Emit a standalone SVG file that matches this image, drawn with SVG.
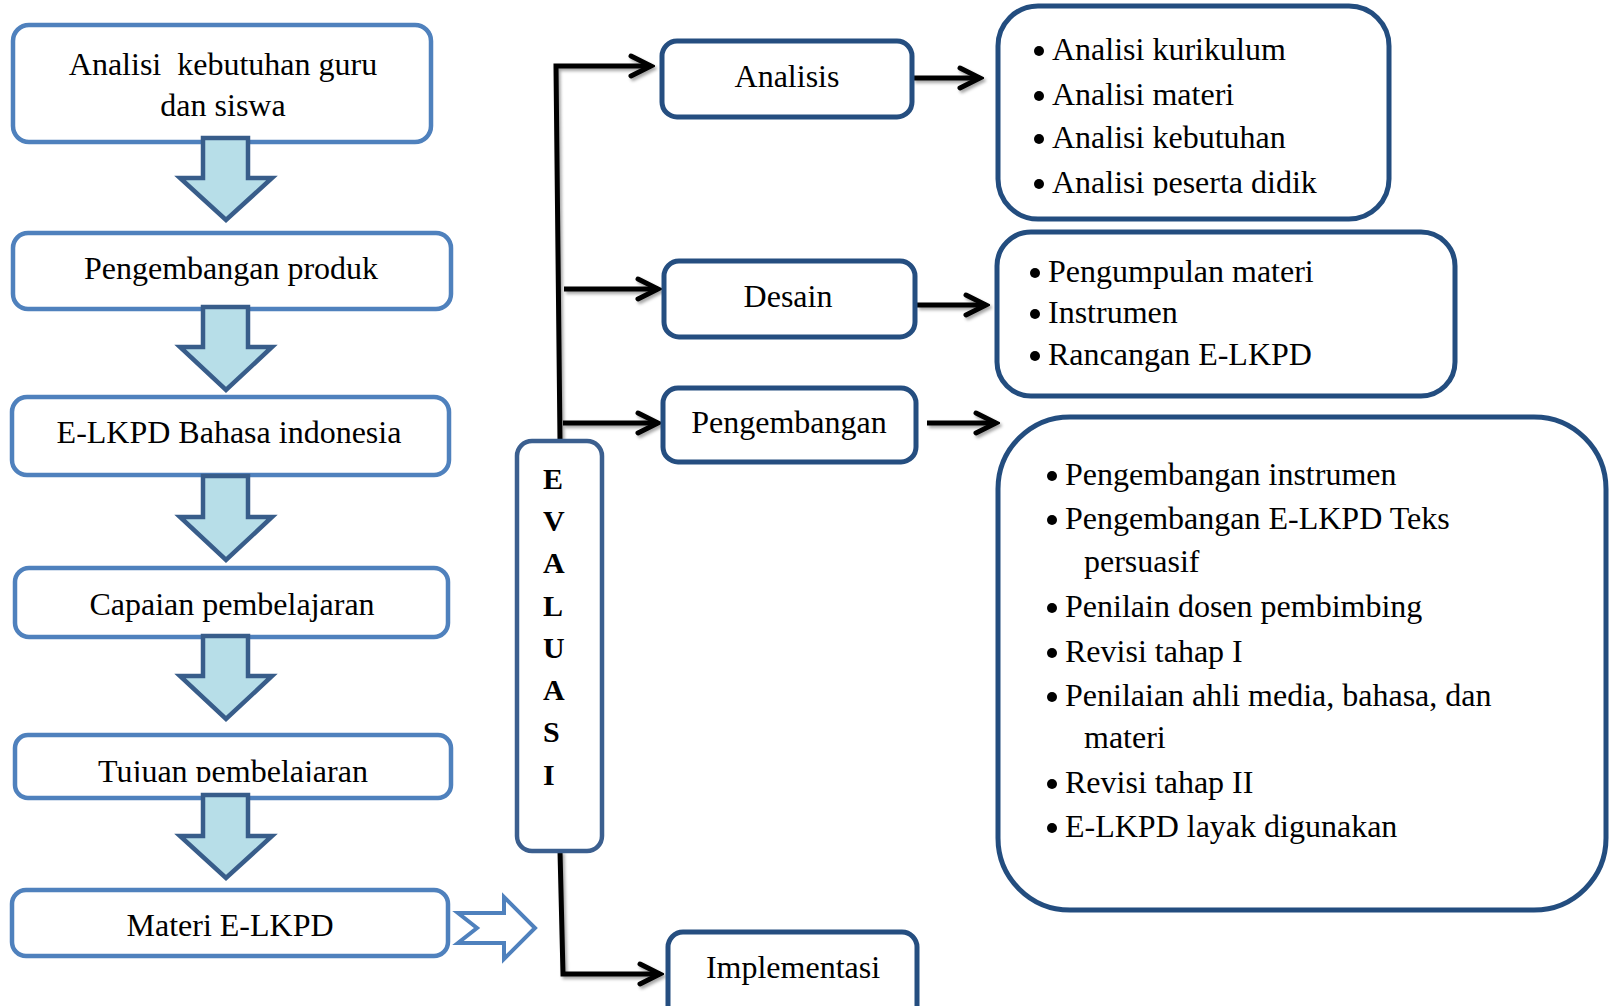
<svg xmlns="http://www.w3.org/2000/svg" width="1609" height="1006" viewBox="0 0 1609 1006">
<style>
  text { font-family: "Liberation Serif", "Times New Roman", serif; font-size: 32px; fill: #000; }
  .c { text-anchor: middle; }
  .lbox { fill: #fff; stroke: #4F81BD; stroke-width: 4.5; }
  .down { fill: #B7DEE8; stroke: #385D8A; stroke-width: 4.5; stroke-linejoin: miter; }
  .mbox { fill: #fff; stroke: #254E80; stroke-width: 5; }
  .rbox { fill: #fff; stroke: #234D7F; stroke-width: 5; }
  .ebox { fill: #fff; stroke: #3B5F8F; stroke-width: 4.5; }
  .ev { font-weight: bold; font-size: 30px; }
  .conn { fill: none; stroke: #000; stroke-width: 5; stroke-linecap: butt; stroke-linejoin: miter; }
  .hollow { fill: #fff; stroke: #4F81BD; stroke-width: 4; stroke-linejoin: miter; }
  .bul { fill: #000; }
</style>
<defs>
  <marker id="chev" markerUnits="userSpaceOnUse" viewBox="-26 -15 30 30" refX="0" refY="0" markerWidth="30" markerHeight="30" orient="auto">
    <path d="M-20,-10 L0,0 L-20,10" fill="none" stroke="#000" stroke-width="5" stroke-linecap="round" stroke-linejoin="miter"/>
  </marker>
  <filter id="sh" x="-10%" y="-10%" width="130%" height="130%">
    <feDropShadow dx="2" dy="2.5" stdDeviation="1.5" flood-color="#000" flood-opacity="0.35"/>
  </filter>
  <clipPath id="clipTujuan"><rect x="0" y="700" width="500" height="82"/></clipPath>
  <clipPath id="clipPeserta"><rect x="1000" y="160" width="380" height="35.5"/></clipPath>
</defs>

<!-- Left column -->
<g id="node-analisi-kebutuhan">
  <rect class="lbox" x="13" y="25" width="418" height="117" rx="16"/>
  <text class="c" x="223" y="75" style="white-space:pre" xml:space="preserve">Analisi  kebutuhan guru</text>
  <text class="c" x="223" y="116">dan siswa</text>
</g>
<g id="node-pengembangan-produk">
  <rect class="lbox" x="13" y="233" width="438" height="76" rx="15"/>
  <text class="c" x="231" y="279">Pengembangan produk</text>
</g>
<g id="node-elkpd-bahasa">
  <rect class="lbox" x="12" y="397" width="437" height="78" rx="15"/>
  <text class="c" x="229" y="443">E-LKPD Bahasa indonesia</text>
</g>
<g id="node-capaian">
  <rect class="lbox" x="15" y="568" width="433" height="69" rx="14"/>
  <text class="c" x="232" y="615">Capaian pembelajaran</text>
</g>
<g id="node-tujuan">
  <rect class="lbox" x="15" y="735" width="436" height="63" rx="13"/>
  <text class="c" x="233" y="782" clip-path="url(#clipTujuan)">Tujuan pembelajaran</text>
</g>
<g id="node-materi">
  <rect class="lbox" x="12" y="890" width="436" height="66" rx="14"/>
  <text class="c" x="230" y="936">Materi E-LKPD</text>
</g>

<!-- Down block arrows -->
<g id="connectors-left">
  <polygon class="down" points="203,138 248,138 248,178 272,178 226,220 180,178 203,178"/>
  <polygon class="down" points="203,307 248,307 248,347 272,347 226,390 180,347 203,347"/>
  <polygon class="down" points="203,476 248,476 248,517 272,517 226,560 180,517 203,517"/>
  <polygon class="down" points="203,636 248,636 248,676 272,676 226,719 180,676 203,676"/>
  <polygon class="down" points="203,795 248,795 248,836 272,836 226,878 180,836 203,836"/>
  <polygon class="hollow" points="458,913 504,913 504,897 535,928 504,959 504,943 458,943 477,928"/>
</g>

<!-- Connectors (black) -->
<g id="connectors" filter="url(#sh)">
  <polyline class="conn" points="560,441 556,66 651,66" marker-end="url(#chev)"/>
  <line class="conn" x1="564" y1="289" x2="658" y2="289" marker-end="url(#chev)"/>
  <line class="conn" x1="563" y1="423" x2="658" y2="423" marker-end="url(#chev)"/>
  <polyline class="conn" points="560,851 563,974 660,974" marker-end="url(#chev)"/>
  <line class="conn" x1="913" y1="78" x2="980" y2="78" marker-end="url(#chev)"/>
  <line class="conn" x1="917" y1="305" x2="986" y2="305" marker-end="url(#chev)"/>
  <line class="conn" x1="927" y1="423" x2="996" y2="423" marker-end="url(#chev)"/>
</g>

<!-- EVALUASI -->
<g id="node-evaluasi">
  <rect class="ebox" x="517" y="441" width="85" height="410" rx="15"/>
  <text class="ev" x="543" y="489">E</text>
  <text class="ev" x="543" y="531">V</text>
  <text class="ev" x="543" y="573">A</text>
  <text class="ev" x="543" y="616">L</text>
  <text class="ev" x="543" y="658">U</text>
  <text class="ev" x="543" y="700">A</text>
  <text class="ev" x="543" y="742">S</text>
  <text class="ev" x="543" y="785">I</text>
</g>

<!-- Middle column -->
<g id="node-analisis">
  <rect class="mbox" x="662" y="41" width="250" height="76" rx="15"/>
  <text class="c" x="787" y="87">Analisis</text>
</g>
<g id="node-desain">
  <rect class="mbox" x="664" y="261" width="251" height="76" rx="15"/>
  <text class="c" x="788" y="307">Desain</text>
</g>
<g id="node-pengembangan">
  <rect class="mbox" x="663" y="388" width="253" height="74" rx="15"/>
  <text class="c" x="789" y="433">Pengembangan</text>
</g>
<g id="node-implementasi">
  <rect class="mbox" x="668" y="932" width="249" height="90" rx="15"/>
  <text class="c" x="793" y="978">Implementasi</text>
</g>

<!-- Right column -->
<g id="node-analisis-detail">
  <rect class="rbox" x="998" y="6" width="391" height="213" rx="40"/>
  <circle class="bul" cx="1039" cy="51" r="5"/>
  <text x="1052" y="60">Analisi kurikulum</text>
  <circle class="bul" cx="1039" cy="96" r="5"/>
  <text x="1052" y="105">Analisi materi</text>
  <circle class="bul" cx="1039" cy="139" r="5"/>
  <text x="1052" y="148">Analisi kebutuhan</text>
  <circle class="bul" cx="1039" cy="184" r="5"/>
  <text x="1052" y="193" clip-path="url(#clipPeserta)">Analisi peserta didik</text>
</g>
<g id="node-desain-detail">
  <rect class="rbox" x="997" y="232" width="458" height="164" rx="34"/>
  <circle class="bul" cx="1035" cy="273" r="5"/>
  <text x="1048" y="282">Pengumpulan materi</text>
  <circle class="bul" cx="1035" cy="314" r="5"/>
  <text x="1048" y="323">Instrumen</text>
  <circle class="bul" cx="1035" cy="356" r="5"/>
  <text x="1048" y="365">Rancangan E-LKPD</text>
</g>
<g id="node-pengembangan-detail">
  <rect class="rbox" x="998" y="417" width="608" height="493" rx="72"/>
  <circle class="bul" cx="1052" cy="476" r="5"/>
  <text x="1065" y="485">Pengembangan instrumen</text>
  <circle class="bul" cx="1052" cy="520" r="5"/>
  <text x="1065" y="529">Pengembangan E-LKPD Teks</text>
  <text x="1084" y="572">persuasif</text>
  <circle class="bul" cx="1052" cy="608" r="5"/>
  <text x="1065" y="617">Penilain dosen pembimbing</text>
  <circle class="bul" cx="1052" cy="653" r="5"/>
  <text x="1065" y="662">Revisi tahap I</text>
  <circle class="bul" cx="1052" cy="697" r="5"/>
  <text x="1065" y="706">Penilaian ahli media, bahasa, dan</text>
  <text x="1084" y="748">materi</text>
  <circle class="bul" cx="1052" cy="784" r="5"/>
  <text x="1065" y="793">Revisi tahap II</text>
  <circle class="bul" cx="1052" cy="828" r="5"/>
  <text x="1065" y="837">E-LKPD layak digunakan</text>
</g>
</svg>
